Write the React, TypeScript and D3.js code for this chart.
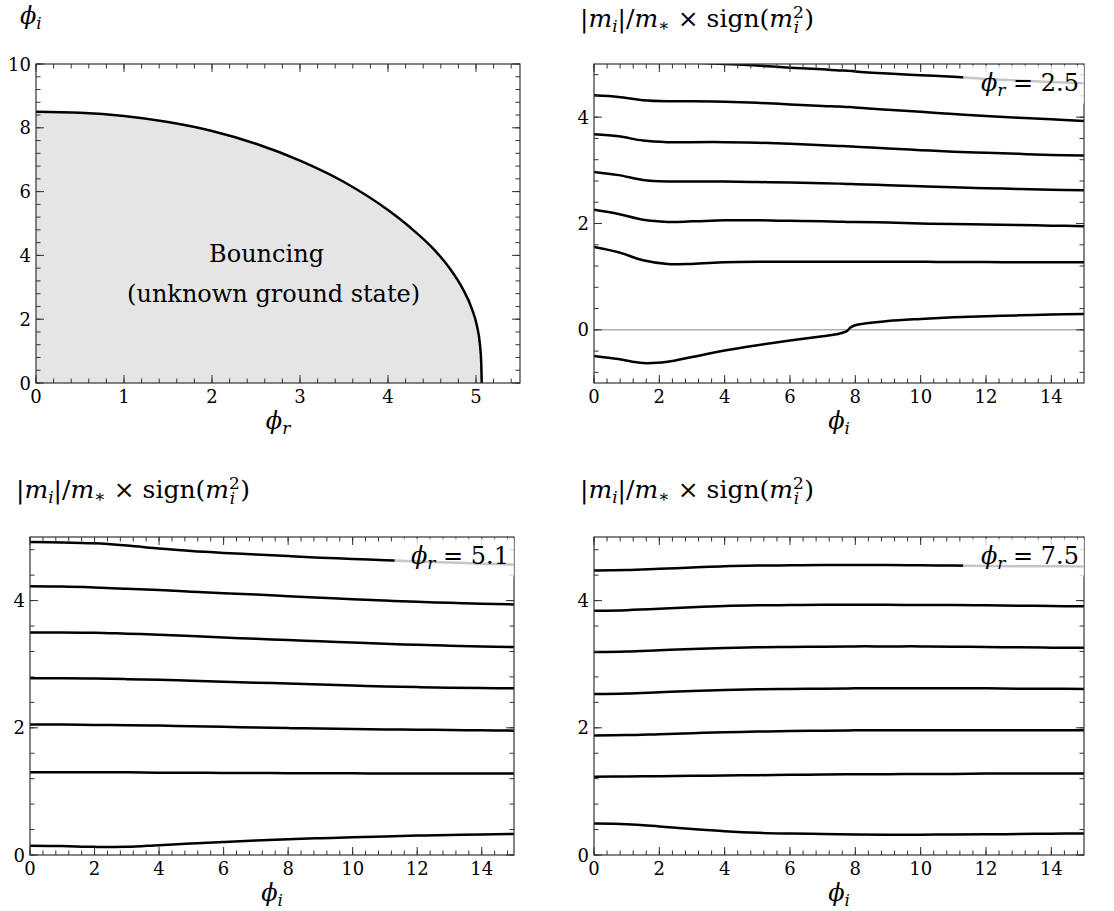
import React from 'react';
import * as d3 from 'd3';

// ---------- data ----------
const boundaryPhiR = [0, 0.5, 1, 1.5, 2, 2.5, 3, 3.5, 4, 4.25, 4.5, 4.7, 4.85, 4.95, 5.01, 5.045, 5.06, 5.065];
const boundaryPhiI = [8.5, 8.47, 8.37, 8.18, 7.9, 7.5, 6.97, 6.3, 5.42, 4.88, 4.25, 3.6, 2.95, 2.35, 1.8, 1.2, 0.6, 0];

const phiGridA = [0, 0.75, 1.5, 2.25, 3, 4, 5, 6, 7, 7.5, 7.75, 7.85, 8, 9, 10, 11, 12, 13, 14, 15];
const massR25_1 = [5.12, 5.1, 5.07, 5.05, 5.03, 5.0, 4.97, 4.93, 4.9, 4.88, 4.875, 4.87, 4.86, 4.82, 4.79, 4.76, 4.72, 4.69, 4.66, 4.64];
const massR25_2 = [4.41, 4.38, 4.32, 4.3, 4.3, 4.29, 4.27, 4.24, 4.21, 4.2, 4.19, 4.19, 4.18, 4.14, 4.1, 4.06, 4.02, 3.99, 3.96, 3.93];
const massR25_3 = [3.68, 3.64, 3.56, 3.53, 3.53, 3.53, 3.52, 3.5, 3.47, 3.46, 3.455, 3.45, 3.445, 3.41, 3.38, 3.35, 3.33, 3.31, 3.29, 3.28];
const massR25_4 = [2.97, 2.91, 2.82, 2.79, 2.79, 2.79, 2.78, 2.77, 2.755, 2.75, 2.745, 2.745, 2.74, 2.72, 2.7, 2.68, 2.665, 2.65, 2.635, 2.625];
const massR25_5 = [2.26, 2.18, 2.07, 2.03, 2.04, 2.06, 2.06, 2.05, 2.04, 2.035, 2.03, 2.03, 2.03, 2.02, 2.0, 1.99, 1.98, 1.97, 1.96, 1.95];
const massR25_6 = [1.56, 1.46, 1.31, 1.24, 1.24, 1.27, 1.28, 1.28, 1.28, 1.28, 1.28, 1.28, 1.28, 1.28, 1.28, 1.275, 1.275, 1.27, 1.27, 1.27];
const massR25_7 = [-0.49, -0.55, -0.625, -0.6, -0.51, -0.39, -0.29, -0.2, -0.12, -0.075, -0.02, 0.045, 0.085, 0.165, 0.205, 0.235, 0.255, 0.272, 0.288, 0.3];

const phiGridB = [0, 1, 2, 3, 4, 5, 6, 7, 8, 9, 10, 11, 12, 13, 14, 15];
const massR51_1 = [4.92, 4.915, 4.9, 4.865, 4.82, 4.78, 4.75, 4.725, 4.7, 4.675, 4.655, 4.635, 4.615, 4.6, 4.58, 4.565];
const massR51_2 = [4.225, 4.22, 4.205, 4.185, 4.165, 4.14, 4.115, 4.095, 4.07, 4.045, 4.02, 4.0, 3.98, 3.965, 3.95, 3.94];
const massR51_3 = [3.5, 3.5, 3.495, 3.48, 3.465, 3.445, 3.42, 3.4, 3.38, 3.36, 3.34, 3.32, 3.305, 3.29, 3.28, 3.27];
const massR51_4 = [2.78, 2.78, 2.775, 2.765, 2.755, 2.74, 2.725, 2.71, 2.695, 2.68, 2.665, 2.65, 2.64, 2.63, 2.625, 2.62];
const massR51_5 = [2.05, 2.05, 2.045, 2.04, 2.035, 2.025, 2.015, 2.005, 1.995, 1.99, 1.98, 1.975, 1.97, 1.965, 1.96, 1.955];
const massR51_6 = [1.3, 1.3, 1.3, 1.3, 1.295, 1.295, 1.29, 1.29, 1.285, 1.285, 1.285, 1.28, 1.28, 1.28, 1.28, 1.28];
const massR51_7 = [0.147, 0.14, 0.128, 0.128, 0.155, 0.18, 0.205, 0.228, 0.247, 0.264, 0.279, 0.292, 0.305, 0.315, 0.324, 0.33];

const massR75_1 = [4.475, 4.48, 4.5, 4.52, 4.54, 4.55, 4.555, 4.56, 4.56, 4.56, 4.555, 4.55, 4.545, 4.54, 4.54, 4.535];
const massR75_2 = [3.84, 3.85, 3.87, 3.895, 3.915, 3.925, 3.93, 3.935, 3.935, 3.935, 3.93, 3.93, 3.925, 3.92, 3.915, 3.91];
const massR75_3 = [3.19, 3.2, 3.22, 3.24, 3.255, 3.265, 3.27, 3.275, 3.28, 3.28, 3.28, 3.275, 3.27, 3.265, 3.26, 3.26];
const massR75_4 = [2.53, 2.54, 2.56, 2.58, 2.595, 2.605, 2.61, 2.615, 2.62, 2.62, 2.62, 2.62, 2.62, 2.615, 2.615, 2.61];
const massR75_5 = [1.88, 1.885, 1.9, 1.915, 1.93, 1.94, 1.95, 1.955, 1.96, 1.96, 1.96, 1.96, 1.96, 1.96, 1.96, 1.96];
const massR75_6 = [1.23, 1.235, 1.24, 1.245, 1.25, 1.255, 1.26, 1.265, 1.27, 1.27, 1.275, 1.275, 1.28, 1.28, 1.28, 1.28];
const massR75_7 = [0.495, 0.485, 0.45, 0.41, 0.375, 0.35, 0.338, 0.33, 0.322, 0.32, 0.32, 0.322, 0.325, 0.33, 0.335, 0.34];

const tlXTicks = [0, 1, 2, 3, 4, 5];
const tlYTicks = [0, 2, 4, 6, 8, 10];
const phiITicks = [0, 2, 4, 6, 8, 10, 12, 14];
const massTicks = [0, 2, 4];
const legendValues = ['2.5', '5.1', '7.5'];

// ---------- styling ----------
const FONT = '"DejaVu Serif", "Liberation Serif", "Times New Roman", serif';
const TICK_FS = 18;
const LABEL_FS = 24;
const MASS_FS = 25;
const LEGEND_FS = 24;
const LINE_W = 2.5;
const SPINE = '#333';

type Box = { x0: number; x1: number; y0: number; y1: number };
type PanelProps = {
  id: string;
  box: Box;
  xDomain: [number, number];
  yDomain: [number, number];
  xTicks: number[];
  yTicks: number[];
  xMinor: number;
  yMinor: number;
  children: (x: d3.ScaleLinear<number, number>, y: d3.ScaleLinear<number, number>) => React.ReactNode;
  overlay?: (x: d3.ScaleLinear<number, number>, y: d3.ScaleLinear<number, number>) => React.ReactNode;
};

function minorValues(domain: [number, number], step: number) {
  const out: number[] = [];
  const start = Math.ceil(domain[0] / step - 1e-9);
  const end = Math.floor(domain[1] / step + 1e-9);
  for (let k = start; k <= end; k++) out.push(+(k * step).toFixed(6));
  return out;
}

function Panel({ id, box, xDomain, yDomain, xTicks, yTicks, xMinor, yMinor, children, overlay }: PanelProps) {
  const x = d3.scaleLinear().domain(xDomain).range([box.x0, box.x1]);
  const y = d3.scaleLinear().domain(yDomain).range([box.y1, box.y0]);
  const MAJ = 8;
  const MIN = 4.5;
  const xm = minorValues(xDomain, xMinor);
  const ym = minorValues(yDomain, yMinor);
  return (
    <g>
      <defs>
        <clipPath id={`clip-${id}`}>
          <rect x={box.x0} y={box.y0} width={box.x1 - box.x0} height={box.y1 - box.y0} />
        </clipPath>
      </defs>
      <g clipPath={`url(#clip-${id})`}>{children(x, y)}</g>
      <g stroke={SPINE} strokeWidth={1}>
        {xm.map((v) => (
          <g key={'xm' + v}>
            <line x1={x(v)} x2={x(v)} y1={box.y1} y2={box.y1 - MIN} />
            <line x1={x(v)} x2={x(v)} y1={box.y0} y2={box.y0 + MIN} />
          </g>
        ))}
        {ym.map((v) => (
          <g key={'ym' + v}>
            <line x1={box.x0} x2={box.x0 + MIN} y1={y(v)} y2={y(v)} />
            <line x1={box.x1} x2={box.x1 - MIN} y1={y(v)} y2={y(v)} />
          </g>
        ))}
        {xTicks.map((v) => (
          <g key={'xM' + v}>
            <line x1={x(v)} x2={x(v)} y1={box.y1} y2={box.y1 - MAJ} />
            <line x1={x(v)} x2={x(v)} y1={box.y0} y2={box.y0 + MAJ} />
          </g>
        ))}
        {yTicks.map((v) => (
          <g key={'yM' + v}>
            <line x1={box.x0} x2={box.x0 + MAJ} y1={y(v)} y2={y(v)} />
            <line x1={box.x1} x2={box.x1 - MAJ} y1={y(v)} y2={y(v)} />
          </g>
        ))}
        <rect x={box.x0} y={box.y0} width={box.x1 - box.x0} height={box.y1 - box.y0} fill="none" strokeWidth={1.2} />
      </g>
      <g fontSize={TICK_FS} fill="#000">
        {xTicks.map((v) => (
          <text key={'xl' + v} x={x(v)} y={box.y1 + 20} textAnchor="middle">{String(v)}</text>
        ))}
        {yTicks.map((v) => (
          <text key={'yl' + v} x={box.x0 - 5} y={y(v) + 6.5} textAnchor="end">{String(v)}</text>
        ))}
      </g>
      {overlay ? overlay(x, y) : null}
    </g>
  );
}

function MassLabel({ x, y }: { x: number; y: number }) {
  const s = 17;
  return (
    <text x={x} y={y} fontSize={MASS_FS} fill="#000">
      <tspan>|</tspan>
      <tspan fontStyle="italic">m</tspan>
      <tspan fontStyle="italic" fontSize={s} dy={5}>i</tspan>
      <tspan dy={-5}>|/</tspan>
      <tspan fontStyle="italic">m</tspan>
      <tspan fontSize={s} dy={4}>∗</tspan>
      <tspan dy={-4}>{' × sign('}</tspan>
      <tspan fontStyle="italic">m</tspan>
      <tspan fontSize={s} dy={-9}>2</tspan>
      <tspan fontSize={s} fontStyle="italic" dx={-10} dy={15}>i</tspan>
      <tspan dx={5} dy={-6}>)</tspan>
    </text>
  );
}

function PhiLabel({ x, y, sub, anchor = 'start', fs = LABEL_FS }: { x: number; y: number; sub: string; anchor?: string; fs?: number }) {
  return (
    <text x={x} y={y} fontSize={fs} fill="#000" textAnchor={anchor as any}>
      <tspan fontStyle="italic">ϕ</tspan>
      <tspan fontStyle="italic" fontSize={fs * 0.7} dy={5}>{sub}</tspan>
    </text>
  );
}

function Legend({ x, value, box, legendStart }: { x: any; value: string; box: Box; legendStart: number }) {
  const left = x(legendStart);
  const right = box.x1;
  return (
    <g>
      <rect x={left} y={box.y0 + 1.5} width={right - left} height={38} fill="#fff" fillOpacity={0.78} />
      <text x={right - 5} y={box.y0 + 27} fontSize={LEGEND_FS} textAnchor="end" fill="#000">
        <tspan fontStyle="italic">ϕ</tspan>
        <tspan fontStyle="italic" fontSize={17} dy={5}>r</tspan>
        <tspan dy={-5}>{' = ' + value}</tspan>
      </text>
    </g>
  );
}

function curves(grid: number[], series: number[][], x: any, y: any) {
  const line = d3
    .line<number>()
    .x((_, i) => x(grid[i]))
    .y((d) => y(d))
    .curve(d3.curveCatmullRom.alpha(0.5));
  return series.map((s, k) => (
    <path key={k} d={line(s) || ''} fill="none" stroke="#000" strokeWidth={LINE_W} />
  ));
}

export default function App() {
  const TL: Box = { x0: 36, x1: 520, y0: 64, y1: 383 };
  const TR: Box = { x0: 594, x1: 1084, y0: 64, y1: 383 };
  const BL: Box = { x0: 30, x1: 514, y0: 537, y1: 855 };
  const BR: Box = { x0: 594, x1: 1084, y0: 537, y1: 855 };
  const legendStart = 11.3;

  const seriesR25 = [massR25_1, massR25_2, massR25_3, massR25_4, massR25_5, massR25_6, massR25_7];
  const seriesR51 = [massR51_1, massR51_2, massR51_3, massR51_4, massR51_5, massR51_6, massR51_7];
  const seriesR75 = [massR75_1, massR75_2, massR75_3, massR75_4, massR75_5, massR75_6, massR75_7];

  return (
    <svg
      width={1114}
      height={911}
      style={{ position: 'absolute', left: 0, top: 0, display: 'block', background: '#fff', fontFamily: FONT }}
      fontFamily={FONT}
    >
      <rect x={0} y={0} width={1114} height={911} fill="#fff" />

      {/* top-left: phase diagram */}
      <Panel
        id="tl"
        box={TL}
        xDomain={[0, 5.5]}
        yDomain={[0, 10]}
        xTicks={tlXTicks}
        yTicks={tlYTicks}
        xMinor={0.2}
        yMinor={0.4}
        children={(x, y) => {
          const pts = boundaryPhiR.map((r, i) => [r, boundaryPhiI[i]] as [number, number]);
          const line = d3
            .line<[number, number]>()
            .x((d) => x(d[0]))
            .y((d) => y(d[1]))
            .curve(d3.curveMonotoneX);
          const d = line(pts) || '';
          const fillD = d + `L${x(0)},${y(0)}Z`;
          return (
            <g>
              <path d={fillD} fill="#e5e5e5" stroke="none" />
              <path d={d} fill="none" stroke="#000" strokeWidth={LINE_W} />
              <text x={x(2.62)} y={y(3.8)} fontSize={LABEL_FS} textAnchor="middle">Bouncing</text>
              <text x={x(2.7)} y={y(2.55)} fontSize={LABEL_FS} textAnchor="middle">(unknown ground state)</text>
            </g>
          );
        }}
      />
      <PhiLabel x={20} y={24} sub="i" />
      <PhiLabel x={(TL.x0 + TL.x1) / 2} y={TL.y1 + 46} sub="r" anchor="middle" />

      {/* top-right: phi_r = 2.5 */}
      <Panel
        id="tr"
        box={TR}
        xDomain={[0, 15]}
        yDomain={[-1, 5]}
        xTicks={phiITicks}
        yTicks={massTicks}
        xMinor={0.4}
        yMinor={0.4}
        children={(x, y) => (
          <g>
            <line x1={x(0)} x2={x(15)} y1={y(0)} y2={y(0)} stroke="#b0b0b0" strokeWidth={1.5} />
            {curves(phiGridA, seriesR25, x, y)}
          </g>
        )}
        overlay={(x) => <Legend x={x} value={legendValues[0]} box={TR} legendStart={legendStart} />}
      />
      <MassLabel x={580} y={27} />
      <PhiLabel x={(TR.x0 + TR.x1) / 2} y={TR.y1 + 46} sub="i" anchor="middle" />

      {/* bottom-left: phi_r = 5.1 */}
      <Panel
        id="bl"
        box={BL}
        xDomain={[0, 15]}
        yDomain={[0, 5]}
        xTicks={phiITicks}
        yTicks={massTicks}
        xMinor={0.4}
        yMinor={0.4}
        children={(x, y) => <g>{curves(phiGridB, seriesR51, x, y)}</g>}
        overlay={(x) => <Legend x={x} value={legendValues[1]} box={BL} legendStart={legendStart} />}
      />
      <MassLabel x={16} y={498} />
      <PhiLabel x={(BL.x0 + BL.x1) / 2} y={BL.y1 + 46} sub="i" anchor="middle" />

      {/* bottom-right: phi_r = 7.5 */}
      <Panel
        id="br"
        box={BR}
        xDomain={[0, 15]}
        yDomain={[0, 5]}
        xTicks={phiITicks}
        yTicks={massTicks}
        xMinor={0.4}
        yMinor={0.4}
        children={(x, y) => <g>{curves(phiGridB, seriesR75, x, y)}</g>}
        overlay={(x) => <Legend x={x} value={legendValues[2]} box={BR} legendStart={legendStart} />}
      />
      <MassLabel x={580} y={498} />
      <PhiLabel x={(BR.x0 + BR.x1) / 2} y={BR.y1 + 46} sub="i" anchor="middle" />
    </svg>
  );
}
